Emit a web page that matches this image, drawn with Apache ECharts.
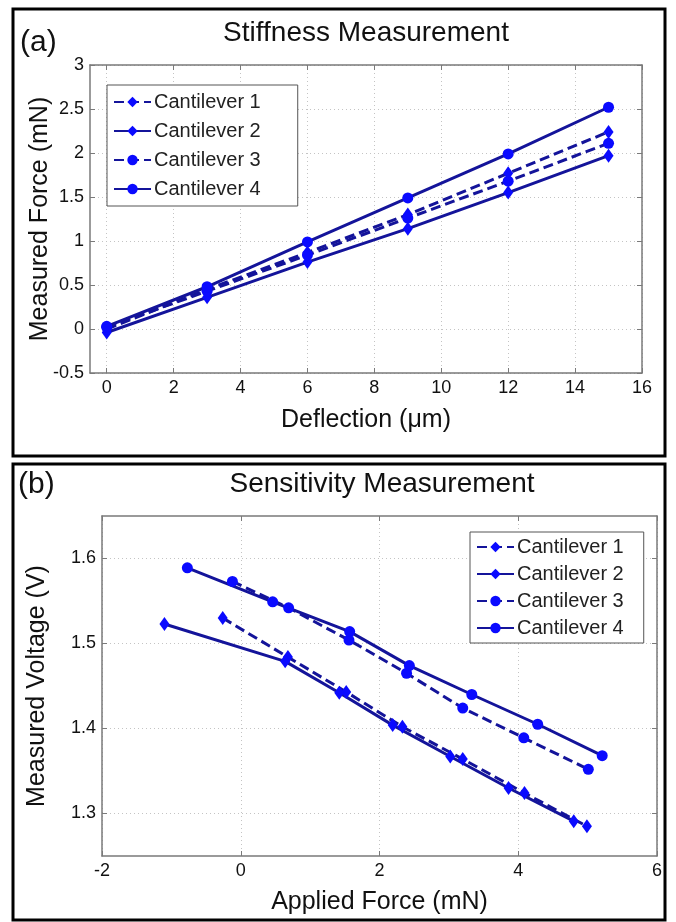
<!DOCTYPE html>
<html>
<head>
<meta charset="utf-8">
<script src="https://cdn.jsdelivr.net/npm/echarts@6/dist/echarts.min.js"></script>
<style>
  html, body { margin: 0; padding: 0; background: #fff; }
  #main { width: 676px; height: 922px; }
</style>
</head>
<body>
<div id="main"></div>
<script>
// (a) stiffness: deflection (um) vs measured force (mN)
var stiffDeflection = [0, 3, 6, 9, 12, 15];
var stiffC1 = [0.00, 0.45, 0.87, 1.30, 1.77, 2.24];
var stiffC2 = [-0.04, 0.36, 0.76, 1.14, 1.55, 1.97];
var stiffC3 = [0.02, 0.43, 0.84, 1.26, 1.68, 2.11];
var stiffC4 = [0.03, 0.48, 0.99, 1.49, 1.99, 2.52];

// (b) sensitivity: applied force (mN) vs measured voltage (V)
var sensC1x = [-0.26, 0.68, 1.52, 2.33, 3.20, 4.09, 4.99];
var sensC1y = [1.530, 1.484, 1.443, 1.402, 1.364, 1.324, 1.285];
var sensC2x = [-1.10, 0.64, 1.42, 2.19, 3.02, 3.86, 4.80];
var sensC2y = [1.523, 1.479, 1.442, 1.404, 1.367, 1.330, 1.291];
var sensC3x = [-0.12, 0.69, 1.56, 2.39, 3.20, 4.08, 5.01];
var sensC3y = [1.573, 1.542, 1.504, 1.465, 1.424, 1.389, 1.352];
var sensC4x = [-0.77, 0.46, 1.57, 2.43, 3.33, 4.28, 5.21];
var sensC4y = [1.589, 1.549, 1.514, 1.474, 1.440, 1.405, 1.368];

var names = ['Cantilever 1', 'Cantilever 2', 'Cantilever 3', 'Cantilever 4'];
var stiffXTicks = [0, 2, 4, 6, 8, 10, 12, 14, 16];
var sensYTicks = [1.3, 1.4, 1.5, 1.6];

var FONT = 'Liberation Sans, Arial, Helvetica, sans-serif';
var lineColor = '#14149a';
var markColor = '#0a0aff';
var boxColor = '#7a7a7a';
var gridColor = '#c4c4c4';

function pairs(xs, ys) {
    return xs.map(function (x, i) { return [x, ys[i]]; });
}

function axisBase(gridIndex, pos, showLabel) {
    return {
        type: 'value',
        gridIndex: gridIndex,
        position: pos,
        nameMoveOverlap: false,
        axisLine: { show: true, onZero: false, lineStyle: { color: boxColor, width: 1.5 } },
        axisTick: { show: true, inside: true, length: 5, lineStyle: { color: boxColor } },
        axisLabel: { show: showLabel, color: '#111', fontSize: 18, fontFamily: FONT, margin: 6 },
        splitLine: { show: showLabel, lineStyle: { color: gridColor, type: [1, 3], width: 1 } },
        nameTextStyle: { color: '#111', fontSize: 25, fontFamily: FONT }
    };
}

function mk(opts, extra) {
    for (var k in extra) opts[k] = extra[k];
    return opts;
}

var styleOf = [
    { symbol: 'diamond', symbolSize: [10, 14], dashed: true },
    { symbol: 'diamond', symbolSize: [10, 14], dashed: false },
    { symbol: 'circle', symbolSize: 11, dashed: true },
    { symbol: 'circle', symbolSize: 11, dashed: false }
];

function series(i, xIdx, yIdx, data) {
    var s = styleOf[i];
    return {
        type: 'line',
        name: names[i],
        xAxisIndex: xIdx,
        yAxisIndex: yIdx,
        data: data,
        symbol: s.symbol,
        symbolSize: s.symbolSize,
        showAllSymbol: true,
        itemStyle: { color: markColor },
        lineStyle: { color: lineColor, width: 3, type: s.dashed ? [10, 5] : 'solid' },
        z: 3
    };
}

var xTop = mk(axisBase(0, 'bottom', true), {
    min: -0.5, max: 16,
    name: 'Deflection (\u03bcm)', nameLocation: 'middle', nameGap: 35
});
xTop.axisLabel.customValues = stiffXTicks;
xTop.axisTick.customValues = stiffXTicks;
var xTopMirror = mk(axisBase(0, 'top', false), { min: -0.5, max: 16 });
xTopMirror.axisTick.customValues = stiffXTicks;

var yTop = mk(axisBase(0, 'left', true), {
    min: -0.5, max: 3, interval: 0.5,
    name: 'Measured Force (mN)', nameLocation: 'middle', nameGap: 37
});
var yTopMirror = mk(axisBase(0, 'right', false), { min: -0.5, max: 3, interval: 0.5 });

var xBot = mk(axisBase(1, 'bottom', true), {
    min: -2, max: 6, interval: 2,
    name: 'Applied Force (mN)', nameLocation: 'middle', nameGap: 34
});
var xBotMirror = mk(axisBase(1, 'top', false), { min: -2, max: 6, interval: 2 });

var yBot = mk(axisBase(1, 'left', true), {
    min: 1.25, max: 1.65,
    name: 'Measured Voltage (V)', nameLocation: 'middle', nameGap: 52
});
yBot.axisLabel.customValues = sensYTicks;
yBot.axisLabel.formatter = function (v) { return v.toFixed(1); };
yBot.axisTick.customValues = sensYTicks;
var yBotMirror = mk(axisBase(1, 'right', false), { min: 1.25, max: 1.65 });
yBotMirror.axisTick.customValues = sensYTicks;

function legendAt(left, top, gap, padding) {
    return {
        orient: 'vertical',
        left: left,
        top: top,
        data: names,
        itemWidth: 37,
        itemHeight: 13,
        itemGap: gap,
        padding: padding,
        backgroundColor: '#fff',
        borderColor: '#555',
        borderWidth: 1,
        borderRadius: 0,
        selectedMode: false,
        textStyle: { color: '#222', fontSize: 20, fontFamily: FONT, padding: [0, 0, 0, -2] }
    };
}

function panelText(x, y, text, size) {
    return {
        type: 'text',
        left: x, top: y,
        style: { text: text, fill: '#111', font: size + 'px ' + FONT }
    };
}

var option = {
    animation: false,
    backgroundColor: '#fff',
    grid: [
        { left: 90, top: 65, width: 552, height: 308 },
        { left: 102, top: 516, width: 555, height: 340 }
    ],
    xAxis: [xTop, xTopMirror, xBot, xBotMirror],
    yAxis: [yTop, yTopMirror, yBot, yBotMirror],
    legend: [
        legendAt(107, 85, 9, [7, 37, 7, 6]),
        legendAt(470, 532, 7, [5, 20, 5, 6])
    ],
    graphic: [
        { type: 'rect', shape: { x: 13, y: 9, width: 652, height: 447 },
          style: { fill: null, stroke: '#000', lineWidth: 3 } },
        { type: 'rect', shape: { x: 13, y: 464, width: 652, height: 456 },
          style: { fill: null, stroke: '#000', lineWidth: 3 } },
        panelText(20, 28, '(a)', 30),
        panelText(18, 470, '(b)', 30),
        { type: 'text', x: 366, y: 33,
          style: { text: 'Stiffness Measurement', fill: '#111', font: '28px ' + FONT,
                   textAlign: 'center', textVerticalAlign: 'middle' } },
        { type: 'text', x: 382, y: 484,
          style: { text: 'Sensitivity Measurement', fill: '#111', font: '28px ' + FONT,
                   textAlign: 'center', textVerticalAlign: 'middle' } }
    ],
    series: [
        series(0, 0, 0, pairs(stiffDeflection, stiffC1)),
        series(1, 0, 0, pairs(stiffDeflection, stiffC2)),
        series(2, 0, 0, pairs(stiffDeflection, stiffC3)),
        series(3, 0, 0, pairs(stiffDeflection, stiffC4)),
        series(0, 2, 2, pairs(sensC1x, sensC1y)),
        series(1, 2, 2, pairs(sensC2x, sensC2y)),
        series(2, 2, 2, pairs(sensC3x, sensC3y)),
        series(3, 2, 2, pairs(sensC4x, sensC4y))
    ]
};

var myChart = echarts.init(document.getElementById('main'));
myChart.setOption(option);
</script>
</body>
</html>
